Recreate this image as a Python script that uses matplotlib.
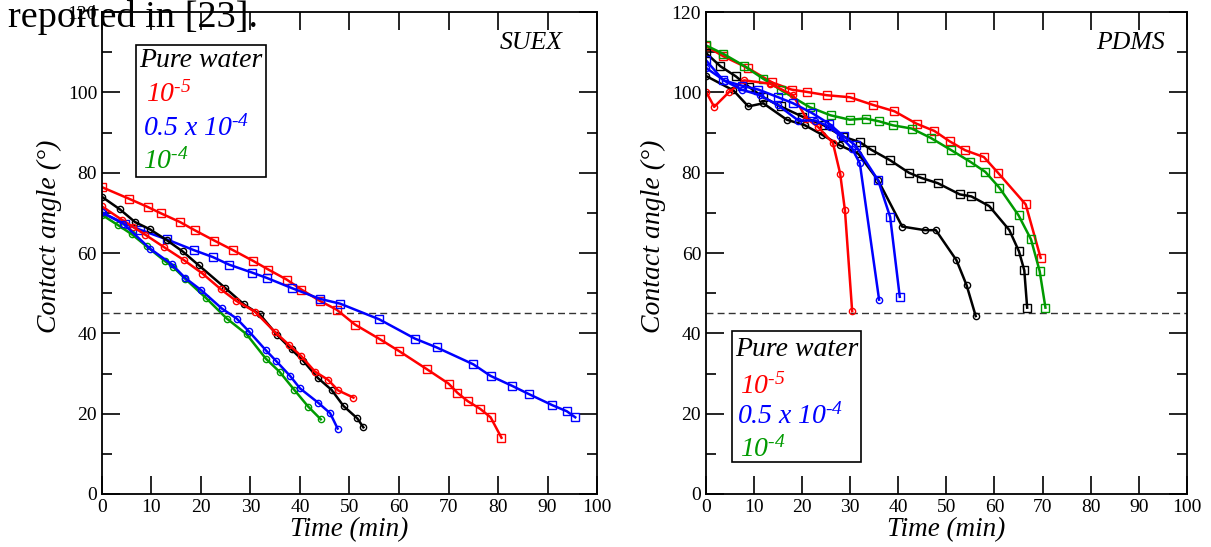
import numpy as np
import matplotlib.pyplot as plt
from matplotlib.patches import Rectangle

plt.rcParams['font.family'] = ['Liberation Serif', 'DejaVu Serif']
plt.rcParams['mathtext.fontset'] = 'custom'
plt.rcParams['mathtext.rm'] = 'Liberation Serif:italic'
plt.rcParams['mathtext.it'] = 'Liberation Serif:italic'

RED = '#ff0000'
BLUE = '#0000ff'
GREEN = '#009a00'
BLACK = '#000000'

# ---- SUEX (left) ----
suex_red_sq_t = [0, 5.5, 9.2, 11.9, 15.8, 18.7, 22.7, 26.5, 30.6, 33.6, 37.3, 40.3, 44.0, 47.4,
                 51.1, 56.2, 60.0, 65.6, 70.0, 71.8, 73.9, 76.4, 78.5, 80.7]
suex_red_sq_a = [76.4, 73.5, 71.5, 69.9, 67.7, 65.7, 63.1, 60.7, 58.0, 55.9, 53.4, 50.9, 48.1, 45.9,
                 42.2, 38.5, 35.6, 31.1, 27.5, 25.2, 23.1, 21.2, 19.1, 14.0]
suex_blue_sq_t = [0, 4.6, 7.7, 13.1, 18.6, 22.4, 25.7, 30.4, 33.3, 38.3, 44.0, 48.1, 56.0, 63.2,
                  67.6, 75.0, 78.5, 82.9, 86.2, 91.0, 93.9, 95.6]
suex_blue_sq_a = [70.1, 67.3, 65.8, 63.4, 60.7, 59.0, 57.1, 55.1, 53.8, 51.3, 48.6, 47.4, 43.5, 38.7,
                  36.5, 32.3, 29.4, 26.9, 24.9, 22.1, 20.6, 19.1]
suex_black_t = [0, 3.6, 6.7, 9.7, 13.1, 16.3, 19.5, 24.8, 28.7, 31.9, 35.3, 38.3, 40.7, 43.6,
                46.4, 48.8, 51.6, 52.8]
suex_black_a = [74.0, 70.9, 67.7, 65.9, 63.2, 60.4, 57.0, 51.4, 47.2, 44.7, 39.7, 36.0, 33.1, 28.9,
                25.9, 21.9, 18.8, 16.6]
suex_red_c_t = [0, 4.0, 6.3, 8.7, 12.5, 16.6, 20.3, 24.0, 27.1, 30.9, 34.9, 37.8, 40.2, 43.0,
                45.7, 47.7, 50.8]
suex_red_c_a = [71.6, 68.3, 66.5, 64.6, 61.5, 58.2, 54.9, 51.0, 48.1, 45.4, 40.4, 37.1, 34.4, 30.5,
                28.4, 25.8, 24.0]
suex_blue_c_t = [0, 4.3, 9.7, 14.1, 16.8, 20.1, 24.2, 27.2, 29.6, 33.1, 35.2, 38.0, 40.0, 43.7,
                 46.1, 47.6]
suex_blue_c_a = [70.1, 67.3, 61.1, 57.2, 53.8, 50.7, 46.2, 43.7, 40.6, 35.8, 33.1, 29.4, 26.3, 22.7,
                 20.1, 16.3]
suex_green_t = [0, 3.3, 6.0, 9.0, 12.7, 14.4, 16.8, 21.1, 25.2, 29.2, 33.1, 35.9, 38.8, 41.7, 44.2]
suex_green_a = [69.5, 66.9, 64.7, 61.7, 58.0, 56.5, 53.6, 48.7, 43.7, 39.8, 33.7, 30.4, 26.0, 21.7, 18.6]

# ---- PDMS (right) ----
pdms_red_sq_t = [0, 3.6, 8.8, 13.7, 17.8, 21.1, 25.1, 29.9, 34.7, 39.2, 43.8, 47.5, 50.7, 53.9,
                 57.8, 60.8, 66.5, 69.6]
pdms_red_sq_a = [111.5, 109.0, 106.0, 102.5, 100.7, 100.1, 99.3, 98.8, 96.9, 95.3, 92.2, 90.4, 87.8,
                 85.6, 83.9, 79.9, 72.1, 58.8]
pdms_green_t = [0, 3.6, 7.8, 11.9, 15.7, 21.6, 25.9, 29.9, 33.2, 36.0, 38.9, 42.8, 46.7, 50.9,
                55.0, 58.1, 61.0, 65.0, 67.6, 69.4, 70.6]
pdms_green_a = [111.7, 109.6, 106.7, 103.4, 100.5, 96.3, 94.3, 93.2, 93.5, 92.8, 91.8, 91.0, 88.7,
                85.7, 82.7, 80.2, 76.3, 69.4, 63.4, 55.5, 46.4]
pdms_black_sq_t = [0, 3.0, 6.2, 9.0, 11.9, 15.5, 20.0, 24.5, 28.5, 32.0, 34.4, 38.3, 42.2, 44.8,
                   48.2, 52.8, 55.2, 58.9, 63.1, 65.1, 66.2, 66.8]
pdms_black_sq_a = [109.8, 106.5, 104.0, 101.3, 98.8, 96.5, 94.0, 91.8, 89.0, 87.6, 85.7, 83.1, 80.0,
                   78.7, 77.4, 74.6, 74.1, 71.7, 65.7, 60.4, 55.7, 46.4]
pdms_black_c_t = [0, 5.7, 8.8, 11.9, 16.8, 20.6, 24.1, 27.9, 31.7, 35.8, 40.8, 45.5, 47.8, 52.1,
                  54.2, 56.1]
pdms_black_c_a = [104.1, 100.5, 96.5, 97.3, 93.2, 91.8, 89.5, 86.8, 84.7, 78.1, 66.6, 65.7, 65.7,
                  58.2, 52.0, 44.3]
pdms_red_c_t = [0, 1.7, 4.8, 7.9, 13.3, 18.1, 20.9, 23.3, 26.4, 27.9, 28.9, 30.4]
pdms_red_c_a = [100.2, 96.4, 100.1, 103.0, 102.2, 99.3, 93.5, 91.4, 87.4, 79.8, 70.6, 45.5]
pdms_blue_sq_t = [0, 3.6, 7.4, 10.9, 15.0, 18.1, 22.0, 25.6, 28.6, 31.1, 35.8, 38.3, 40.3]
pdms_blue_sq_a = [108.0, 103.0, 101.7, 100.7, 98.8, 97.3, 94.9, 92.2, 89.1, 86.8, 78.1, 69.0, 49.1]
pdms_blue_c_t = [0, 4.0, 7.4, 11.2, 15.0, 19.2, 22.7, 25.8, 27.9, 30.4, 32.0, 36.0]
pdms_blue_c_a = [106.1, 102.8, 100.7, 99.3, 96.8, 93.0, 93.0, 91.4, 89.1, 86.0, 82.3, 48.4]

legend_labels = ['Pure water', '$10^{\u20105}$', '$0.5\\ x\\ 10^{\u20104}$', '$10^{\u20104}$']
legend_colors = [BLACK, RED, BLUE, GREEN]


def series(ax, t, a, color, marker):
    ms = 5.5 if marker == 's' else 4.5
    ax.plot(t, a, color=color, lw=1.8, marker=marker, ms=ms, mfc='none',
            mec=color, mew=1.0)


def style(ax, name, name_x, ylab_x):
    ax.set_xlim(0, 100)
    ax.set_ylim(0, 120)
    ax.set_xticks(np.arange(0, 101, 10))
    ax.set_yticks(np.arange(0, 121, 20))
    ax.set_yticks(np.arange(0, 121, 10), minor=True)
    ax.tick_params(which='both', direction='in', top=True, right=True, labelsize=14)
    ax.tick_params(which='major', length=13, width=1.2)
    ax.tick_params(which='minor', length=7, width=1.2)
    for s in ax.spines.values():
        s.set_linewidth(1.3)
    ax.set_xlabel('Time (min)', fontsize=19.5, style='italic', labelpad=1)
    ax.set_ylabel('Contact angle (°)', fontsize=20, style='italic')
    ax.yaxis.set_label_coords(ylab_x, 0.535)
    ax.axhline(45, color='#333333', lw=1.0, ls=(0, (5, 3)), zorder=0)
    ax.text(name_x, 0.936, name, transform=ax.transAxes, ha='right', va='center',
            fontsize=18.5, style='italic')


def legend_box(ax, box, pos):
    x0, y0, x1, y1 = box
    ax.add_patch(Rectangle((x0, y0), x1 - x0, y1 - y0, transform=ax.transAxes,
                           fill=False, ec='black', lw=1.2, zorder=5))
    for (x, y), lab, c in zip(pos, legend_labels, legend_colors):
        ax.text(x, y, lab, transform=ax.transAxes, color=c, fontsize=20,
                style='italic', ha='left', va='center', zorder=6)


fig = plt.figure(figsize=(12.11, 5.47), dpi=100)
ax1 = fig.add_axes([0.0842, 0.0969, 0.4088, 0.881])
ax2 = fig.add_axes([0.583, 0.0969, 0.397, 0.881])

series(ax1, suex_red_sq_t, suex_red_sq_a, RED, 's')
series(ax1, suex_blue_sq_t, suex_blue_sq_a, BLUE, 's')
series(ax1, suex_black_t, suex_black_a, BLACK, 'o')
series(ax1, suex_red_c_t, suex_red_c_a, RED, 'o')
series(ax1, suex_green_t, suex_green_a, GREEN, 'o')
series(ax1, suex_blue_c_t, suex_blue_c_a, BLUE, 'o')
style(ax1, 'SUEX', 0.931, -0.081)
legend_box(ax1, (0.0687, 0.658, 0.331, 0.931),
           [(0.075, 0.900), (0.089, 0.830), (0.083, 0.759), (0.083, 0.690)])

series(ax2, pdms_red_sq_t, pdms_red_sq_a, RED, 's')
series(ax2, pdms_green_t, pdms_green_a, GREEN, 's')
series(ax2, pdms_black_sq_t, pdms_black_sq_a, BLACK, 's')
series(ax2, pdms_black_c_t, pdms_black_c_a, BLACK, 'o')
series(ax2, pdms_red_c_t, pdms_red_c_a, RED, 'o')
series(ax2, pdms_blue_sq_t, pdms_blue_sq_a, BLUE, 's')
series(ax2, pdms_blue_c_t, pdms_blue_c_a, BLUE, 'o')
style(ax2, 'PDMS', 0.954, -0.083)
legend_box(ax2, (0.054, 0.066, 0.322, 0.338),
           [(0.060, 0.299), (0.071, 0.224), (0.064, 0.162), (0.071, 0.093)])

fig.text(8 / 1211, 1 - 27 / 547, 'reported in [23].', fontsize=27.5, va='baseline', ha='left')

fig.savefig('out.png', dpi=100)
